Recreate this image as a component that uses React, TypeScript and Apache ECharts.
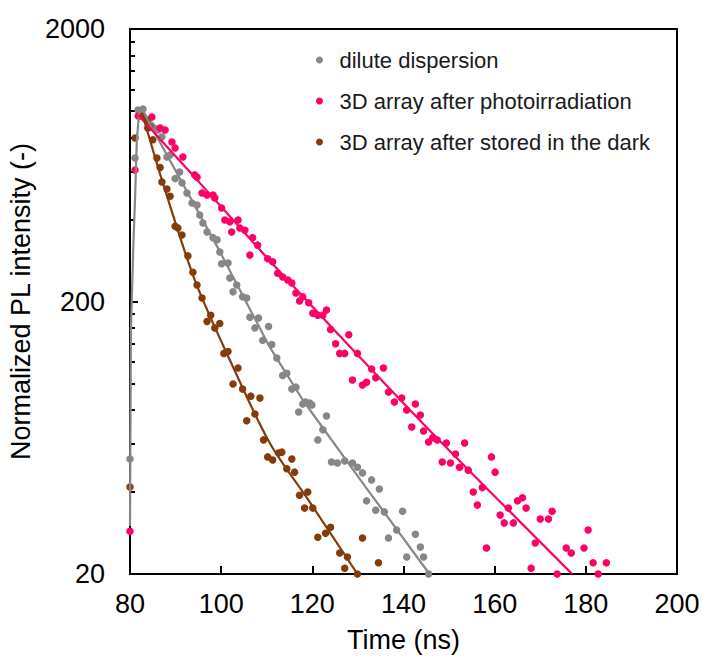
import React, { useEffect, useRef } from "react";
import * as echarts from "echarts";

// ---- axis ticks ----
const xMin = 80;
const xMax = 200;
const xInterval = 20;
const yMin = 20;
const yMax = 2000;
const yMajorTicks = [20, 200, 2000];
const yMinorTicks = [40, 60, 80, 100, 120, 140, 160, 180, 400, 600, 800, 1000, 1200, 1400, 1600, 1800];

// ---- series names ----
const nameGray = "dilute dispersion";
const namePink = "3D array after photoirradiation";
const nameBrown = "3D array after stored in the dark";

// ---- dilute dispersion (gray) ----
const grayT = [80.0, 81.1, 81.75, 82.85, 83.9, 84.6, 85.3, 86.1, 87.0, 88.1, 88.8, 89.9, 90.9, 91.4, 92.5, 93.6, 94.7, 95.3, 96.0, 96.9, 98.2, 99.1, 99.7, 100.1, 101.5, 101.9, 102.6, 103.4, 104.7, 105.6, 106.3, 107.4, 108.2, 109.1, 110.4, 111.1, 112.2, 113.5, 114.4, 115.5, 116.4, 117.0, 117.9, 118.5, 119.4, 119.9, 121.2, 122.3, 123.1, 124.2, 125.5, 127.1, 128.8, 129.9, 131.0, 131.9, 133.0, 133.9, 134.7, 135.8, 136.7, 138.5, 139.8, 140.7, 142.6, 143.7, 144.4, 145.5];
const grayI = [52.8, 672, 1009, 1018, 911, 889, 867, 852, 804, 678, 690, 565, 597, 545, 500, 460, 452, 415, 388, 360, 343, 337, 304, 275, 277, 244, 217, 230, 208, 206, 175, 160, 174, 144, 162, 139, 124, 107, 109, 95.4, 97, 78.6, 84.1, 85.5, 84.8, 83.4, 62.1, 67.6, 76, 51.5, 51.1, 52, 51.1, 49.3, 47, 37.1, 44.3, 34.3, 41, 33.8, 27.1, 29, 34, 23.1, 28, 25.1, 23.1, 20];
const grayFitT = [80.0, 80.2, 80.7, 81.1, 81.5, 82.0, 82.85, 83.9, 99.05, 110.66, 117.9, 131.7, 145.7];
const grayFitI = [30, 157, 310, 473, 780, 990, 1005, 927, 320, 136, 87, 41.7, 20];

// ---- 3D array after photoirradiation (pink) ----
const pinkT = [80.0, 81.1, 81.8, 82.4, 84.8, 86.6, 87.7, 89.2, 89.9, 91.6, 94.2, 94.7, 95.8, 96.9, 98.2, 98.6, 100.1, 100.8, 101.9, 102.3, 103.7, 104.1, 105.2, 106.3, 106.9, 108.0, 110.2, 111.3, 112.4, 113.5, 114.6, 115.5, 116.4, 117.2, 117.9, 119.2, 120.1, 121.2, 122.3, 123.1, 124.0, 125.1, 126.0, 127.1, 128.0, 128.8, 129.9, 131.0, 131.9, 133.0, 133.9, 135.6, 136.7, 138.0, 139.6, 140.7, 141.8, 142.6, 143.7, 144.4, 145.5, 146.4, 147.4, 148.5, 149.4, 150.3, 151.4, 152.3, 153.4, 154.2, 155.3, 156.2, 157.3, 158.2, 159.3, 160.1, 161.2, 162.1, 163.0, 164.1, 165.0, 166.1, 166.9, 168.0, 168.9, 170.0, 171.8, 172.6, 173.7, 175.7, 176.8, 179.6, 180.5, 181.6, 182.7, 184.5];
const pinkI = [28.7, 607, 959, 959, 950, 867, 852, 770, 732, 678, 583, 571, 500, 492, 492, 480, 441, 398, 392, 360, 398, 372, 365, 296, 343, 322, 287, 280, 254, 246, 240, 234, 215, 201, 208, 198, 181, 178, 178, 186, 158, 140, 129, 129, 151, 103, 129, 98.8, 101, 113, 105, 114, 93, 85.5, 88.4, 80, 69.3, 84.1, 76.6, 67, 61, 63.2, 62.1, 51.5, 60.5, 51.1, 55.1, 49.3, 60.5, 48.1, 40, 35.8, 41.5, 24.9, 53.8, 47.3, 32.9, 30.8, 34.9, 30.8, 37.1, 38.1, 34.9, 21, 26, 31.8, 31.8, 34, 20, 24.9, 23.9, 24.9, 29, 22, 20, 22];
const pinkFitT = [81.8, 95.3, 111.1, 145.0, 177.0];
const pinkFitI = [967, 545, 277, 69.3, 20];

// ---- 3D array after stored in the dark (brown) ----
const brownT = [80.0, 81.1, 82.85, 83.7, 83.9, 84.4, 85.0, 85.9, 86.6, 87.0, 88.1, 88.8, 89.9, 90.5, 91.4, 92.7, 93.8, 94.7, 95.8, 96.9, 97.7, 98.6, 99.7, 100.6, 101.5, 102.6, 103.7, 104.7, 105.6, 106.5, 107.4, 108.5, 109.3, 110.2, 111.3, 112.6, 113.3, 114.4, 115.5, 116.1, 117.2, 118.3, 119.0, 120.1, 121.2, 122.9, 124.0, 126.0, 127.1, 127.7, 129.9, 131.0, 134.5];
const brownI = [41.7, 796, 959, 927, 867, 874, 784, 672, 620, 549, 517, 487, 378, 372, 351, 294, 256, 230, 206, 169, 178, 160, 166, 129, 131, 99.6, 114, 95.4, 73, 89.9, 77.3, 88.4, 62.1, 53.8, 52.4, 55.6, 56, 48.7, 52.8, 47.3, 38.9, 34.9, 40, 34.9, 27.3, 28.2, 29.7, 23.9, 21, 23.1, 20, 27.1, 22];
const brownFitT = [82.85, 87.0, 94.2, 101.9, 110.66, 119.4, 129.9];
const brownFitI = [959, 559, 240, 122, 60.5, 36.8, 20];

const colorGray = "#878787";
const colorPink = "#ff0066";
const colorBrown = "#843c0c";

const FONT = "'Liberation Sans', Arial, sans-serif";

const zip = (t: number[], v: number[]) => t.map((x, i) => [x, v[i]]);

export default function App() {
  const ref = useRef<HTMLDivElement>(null);

  useEffect(() => {
    if (!ref.current) return;
    const chart = echarts.init(ref.current, undefined, { renderer: "svg" });

    const scatter = (name: string, t: number[], v: number[], color: string) => ({
      name,
      type: "scatter",
      data: zip(t, v),
      symbol: "circle",
      symbolSize: 7.5,
      itemStyle: { color, opacity: 1 },
      z: 2,
    });
    const fit = (name: string, t: number[], v: number[], color: string, smooth: number | boolean) => ({
      name,
      type: "line",
      data: zip(t, v),
      showSymbol: false,
      smooth,
      lineStyle: { color, width: 2.2 },
      itemStyle: { color },
      silent: true,
      z: 3,
    });

    chart.setOption({
      animation: false,
      textStyle: { fontFamily: FONT },
      grid: {
        left: 130,
        right: 28,
        top: 29,
        bottom: 90,
        show: true,
        borderColor: "#000",
        borderWidth: 2,
        containLabel: false,
        outerBoundsMode: "none",
      },
      legend: {
        orient: "vertical",
        left: 311,
        top: 44,
        itemWidth: 30,
        itemHeight: 7,
        itemGap: 19,
        textStyle: { fontSize: 22, color: "#1a1a1a", fontFamily: FONT },
        data: [
          { name: nameGray, icon: "circle" },
          { name: namePink, icon: "circle" },
          { name: nameBrown, icon: "circle" },
        ],
      },
      xAxis: {
        type: "value",
        min: xMin,
        max: xMax,
        interval: xInterval,
        name: "Time (ns)",
        nameLocation: "middle",
        nameGap: 52,
        nameTextStyle: { fontSize: 27, color: "#000", fontFamily: FONT },
        axisLine: { show: true, lineStyle: { color: "#000", width: 2 } },
        axisTick: { show: true, inside: true, length: 8, lineStyle: { color: "#000", width: 2 } },
        axisLabel: {
          fontSize: 27,
          color: "#000",
          margin: 16,
          fontFamily: FONT,
          showMinLabel: true,
          showMaxLabel: true,
          formatter: (v: number) => String(v),
        },
        splitLine: { show: false },
      },
      yAxis: [
        {
          type: "log",
          logBase: 10,
          min: yMin,
          max: yMax,
          position: "left",
          name: "Normalized PL intensity (-)",
          nameLocation: "middle",
          nameGap: 80,
          nameTextStyle: { fontSize: 27, color: "#000", fontFamily: FONT },
          axisLine: { show: true, lineStyle: { color: "#000", width: 2 } },
          axisTick: {
            show: true,
            inside: true,
            length: 8,
            customValues: yMajorTicks,
            lineStyle: { color: "#000", width: 2 },
          },
          axisLabel: {
            fontSize: 27,
            color: "#000",
            margin: 25,
            customValues: yMajorTicks,
            fontFamily: FONT,
            formatter: (v: number) => String(Math.round(v)),
          },
          splitLine: { show: false },
          minorTick: { show: false },
        },
        {
          type: "log",
          logBase: 10,
          min: yMin,
          max: yMax,
          position: "left",
          offset: 0,
          axisLine: { show: false },
          axisTick: {
            show: true,
            inside: true,
            length: 5,
            customValues: yMinorTicks,
            lineStyle: { color: "#000", width: 2 },
          },
          axisLabel: { show: false },
          splitLine: { show: false },
        },
      ],
      series: [
        scatter(nameGray, grayT, grayI, colorGray),
        scatter(namePink, pinkT, pinkI, colorPink),
        scatter(nameBrown, brownT, brownI, colorBrown),
        fit(nameGray + " fit", grayFitT, grayFitI, colorGray, false),
        fit(namePink + " fit", pinkFitT, pinkFitI, colorPink, 0.2),
        fit(nameBrown + " fit", brownFitT, brownFitI, colorBrown, 0.3),
      ],
    });

    return () => chart.dispose();
  }, []);

  return <div ref={ref} style={{ width: 705, height: 664, position: "absolute", left: 0, top: 0 }} />;
}
